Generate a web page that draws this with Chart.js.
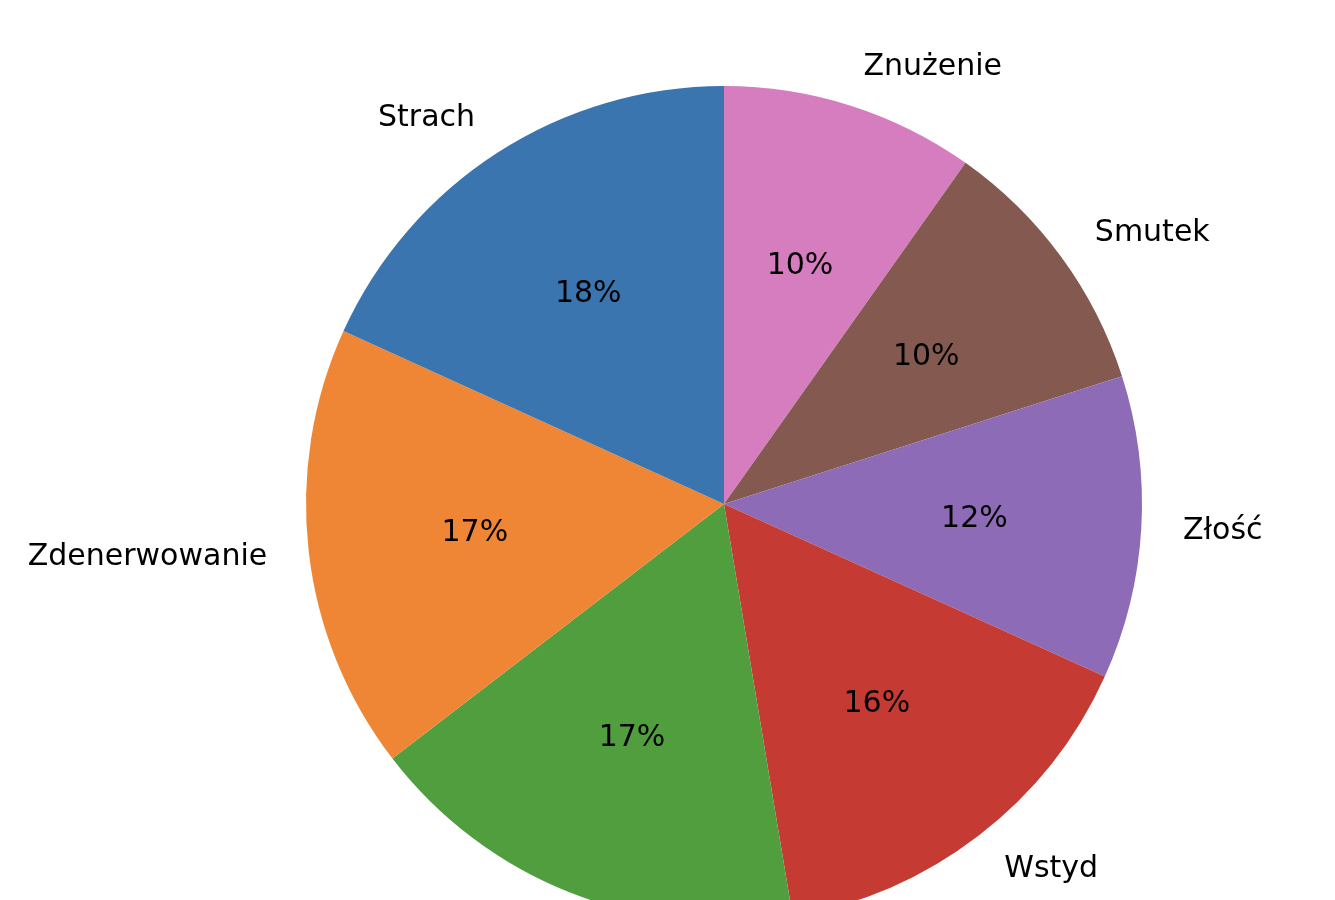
<!DOCTYPE html>
<html>
<head>
<meta charset="utf-8">
<script src="https://cdn.jsdelivr.net/npm/chart.js@4"></script>
<style>
  html, body { margin: 0; padding: 0; background: #fff; overflow: hidden; }
  #wrap { width: 1335px; height: 1008px; }
</style>
</head>
<body>
<div id="wrap"><canvas id="pie" width="1335" height="1008"></canvas></div>
<script>
// slices listed clockwise from 12 o'clock
const labels = ['Znużenie', 'Smutek', 'Złość', 'Wstyd', 'Radość', 'Zdenerwowanie', 'Strach'];
const values = [9.8, 10.25, 11.7, 15.6, 17.2, 17.2, 18.2];
const colors = ['#d57dbe', '#845a50', '#8d6bb7', '#c53a32', '#519e3e', '#ee8635', '#3a75af'];

const FONT = { family: 'DejaVu Sans', size: 30 };

const pieLabels = {
  id: 'pieLabels',
  afterDatasetsDraw(chart) {
    const { ctx } = chart;
    const meta = chart.getDatasetMeta(0);
    const total = values.reduce((a, b) => a + b, 0);
    ctx.save();
    ctx.font = `${FONT.size}px "${FONT.family}"`;
    ctx.fillStyle = '#000';
    ctx.textBaseline = 'middle';
    meta.data.forEach((arc, i) => {
      const { x, y, startAngle, endAngle, outerRadius } = arc.getProps(['x', 'y', 'startAngle', 'endAngle', 'outerRadius'], true);
      const mid = (startAngle + endAngle) / 2;
      const cos = Math.cos(mid), sin = Math.sin(mid);

      ctx.textAlign = 'center';
      const pct = Math.round(values[i] / total * 100) + '%';
      ctx.fillText(pct, x + cos * outerRadius * 0.6, y + sin * outerRadius * 0.6 + 1);

      ctx.textAlign = cos >= 0 ? 'left' : 'right';
      ctx.fillText(labels[i], x + cos * outerRadius * 1.1, y + sin * outerRadius * 1.1 + 1);
    });
    ctx.restore();
  }
};

new Chart(document.getElementById('pie').getContext('2d'), {
  type: 'pie',
  data: {
    labels,
    datasets: [{
      data: values,
      backgroundColor: colors,
      borderWidth: 0,
    }]
  },
  options: {
    responsive: false,
    devicePixelRatio: 1,
    animation: false,
    rotation: 0,
    layout: { padding: { left: 306, right: 193, top: 86, bottom: 86 } },
    plugins: {
      legend: { display: false },
      tooltip: { enabled: false },
    }
  },
  plugins: [pieLabels]
});
</script>
</body>
</html>
